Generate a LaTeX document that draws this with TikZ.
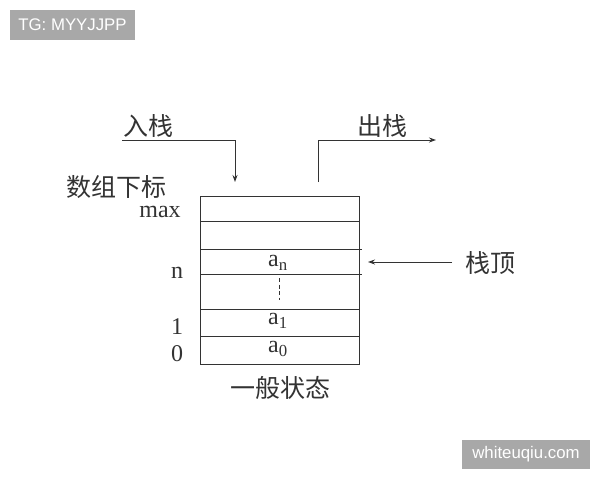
\documentclass[tikz,border=0pt]{standalone}
\usepackage{fontspec}
\setmainfont{Liberation Serif}
\newfontfamily\cjk{Noto Sans CJK SC}[Scale=1]
\newfontfamily\wm{Liberation Sans}
\usetikzlibrary{arrows.meta}
\definecolor{ink}{HTML}{333333}
\definecolor{wmgray}{HTML}{A8A8A8}
\tikzset{
  lbl/.style={inner sep=0pt, text=ink, font=\cjk\fontsize{25}{25}\selectfont},
  num/.style={inner sep=0pt, text=ink, font=\fontsize{24}{24}\selectfont},
  cell/.style={inner sep=0pt, text=ink, font=\fontsize{24}{24}\selectfont},
  ln/.style={draw=ink, line width=0.9pt},
  arr/.style={ln, -{Stealth[length=7pt,width=5pt]}},
  wmbox/.style={fill=wmgray, text=white, inner sep=0pt, font=\wm\fontsize{16.8}{16.8}\selectfont},
}
\begin{document}
\begin{tikzpicture}[x=1pt,y=-1pt]
\useasboundingbox (0,0) rectangle (600,480);
\fill[white] (0,0) rectangle (600,480);
% watermarks
\node[wmbox, minimum width=125pt, minimum height=30pt] (wm1) at (72.5,25) {TG: MYYJJPP};
\node[wmbox, minimum width=128pt, minimum height=29pt] (wm2) at (526,454.5) {whiteuqiu.com};
% stack box
\coordinate (tl) at (200,196);
\coordinate (br) at (359,364);
\draw[ln] (tl) rectangle (br);
\draw[ln] (200,221.7) -- (359,221.7);
\draw[ln] (201,249.7) -- (362,249.7);
\draw[ln] (201,274.7) -- (362,274.7);
\draw[ln] (200,309) -- (359,309);
\draw[ln] (200,336.7) -- (359,336.7);
% cell texts
\node[cell] (an) at (278,263) {a\textsubscript{n}};
\coordinate (d1) at (279,278);
\coordinate (d2) at (279,300);
\draw[ln, dashed, dash pattern=on 4pt off 2.5pt] (d1) -- (d2);
\node[cell] (a1) at (278,321) {a\textsubscript{1}};
\node[cell] (a0) at (278,349) {a\textsubscript{0}};
% index labels
\node[lbl] (idx) at (116,187) {数组下标};
\node[num, anchor=base] (max) at (160,217) {max};
\node[num, anchor=base] (nn) at (177,278) {n};
\node[num, anchor=base] (one) at (177,334) {1};
\node[num, anchor=base] (zero) at (177,361) {0};
% push / pop
\node[lbl] (push) at (148,126) {入栈};
\node[lbl] (pop) at (382,126) {出栈};
\coordinate (p0) at (122,140);
\coordinate (p1) at (235,140);
\coordinate (p2) at (235,182);
\draw[arr] (p0) -- (p1) -- (p2);
\coordinate (q0) at (318,182);
\coordinate (q1) at (318,140);
\coordinate (q2) at (436,140);
\draw[arr] (q0) -- (q1) -- (q2);
% top pointer
\node[lbl] (top) at (490,263) {栈顶};
\coordinate (t0) at (452,262);
\coordinate (t1) at (368,262);
\draw[arr] (t0) -- (t1);
% caption
\node[lbl] (cap) at (280,388) {一般状态};
\end{tikzpicture}
\end{document}
